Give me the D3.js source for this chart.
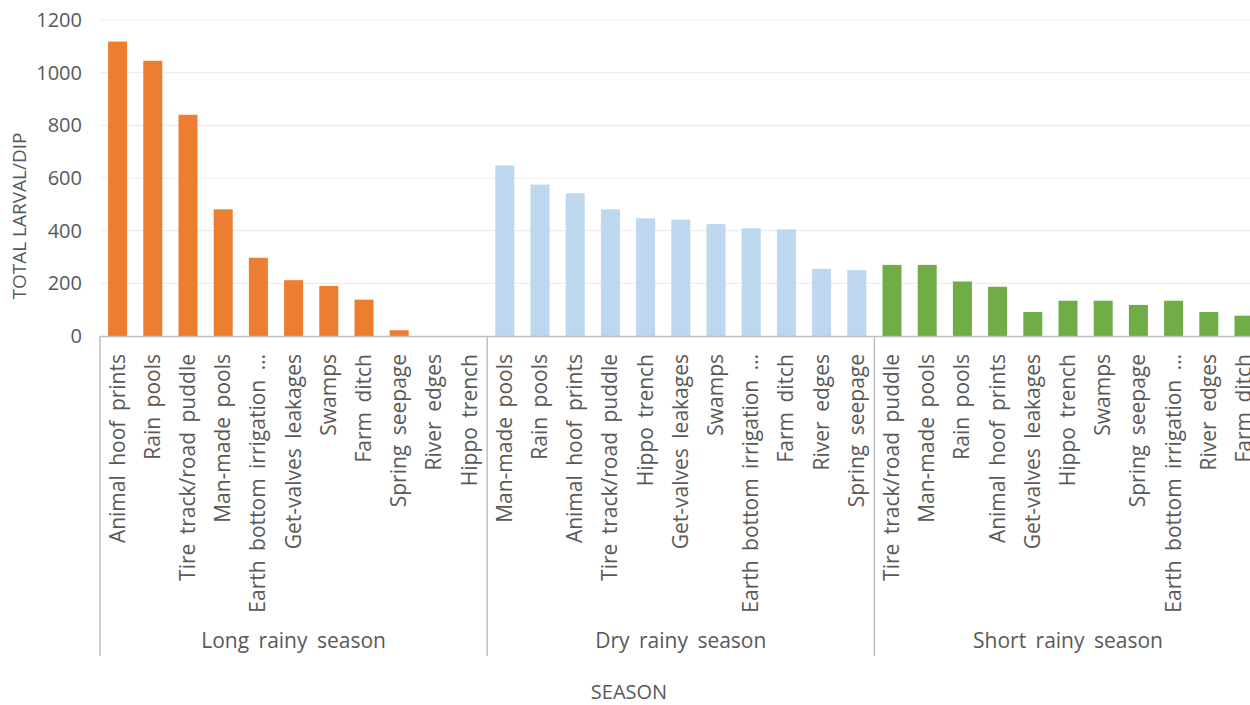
<!DOCTYPE html>
<html>
<head>
<meta charset="utf-8">
<script src="https://cdn.jsdelivr.net/npm/d3@7"></script>
<style>
  html, body { margin: 0; padding: 0; background: #fff; }
  svg { display: block; }
  text { font-family: "Open Sans", "Noto Sans", sans-serif; fill: #595959; }
</style>
</head>
<body>
<svg id="chart" width="1250" height="705"></svg>
<script>
const seasons = ["Long rainy season", "Dry rainy season", "Short rainy season"];
const seasonColors = ["#ED7D31", "#BDD7EE", "#70AD47"];

const longCats = ["Animal hoof prints", "Rain pools", "Tire track/road puddle", "Man-made pools",
  "Earth bottom irrigation …", "Get-valves leakages", "Swamps", "Farm ditch", "Spring seepage",
  "River edges", "Hippo trench"];
const longVals = [1118, 1045, 840, 481, 297, 212, 190, 138, 22, 0, 0];

const dryCats = ["Man-made pools", "Rain pools", "Animal hoof prints", "Tire track/road puddle",
  "Hippo trench", "Get-valves leakages", "Swamps", "Earth bottom irrigation …", "Farm ditch",
  "River edges", "Spring seepage"];
const dryVals = [648, 575, 542, 481, 447, 442, 425, 409, 405, 255, 250];

const shortCats = ["Tire track/road puddle", "Man-made pools", "Rain pools", "Animal hoof prints",
  "Get-valves leakages", "Hippo trench", "Swamps", "Spring seepage", "Earth bottom irrigation …",
  "River edges", "Farm ditch"];
const shortVals = [270, 270, 207, 187, 91, 134, 134, 118, 134, 91, 77];

const yTicks = [0, 200, 400, 600, 800, 1000, 1200];

const groups = [
  { season: seasons[0], cats: longCats, vals: longVals, color: seasonColors[0] },
  { season: seasons[1], cats: dryCats, vals: dryVals, color: seasonColors[1] },
  { season: seasons[2], cats: shortCats, vals: shortVals, color: seasonColors[2] }
];

const rows = [];
groups.forEach((g, gi) => g.cats.forEach((c, i) =>
  rows.push({ key: gi + "|" + i, cat: c, val: g.vals[i], color: g.color, gi })));

const svg = d3.select("#chart");
const pLeft = 100, pRight = 1261.6, pTop = 20, pBottom = 336;

const x = d3.scaleBand().domain(rows.map(r => r.key)).range([pLeft, pRight])
  .paddingInner(0.46).paddingOuter(0.23);
const y = d3.scaleLinear().domain([0, 1200]).range([pBottom, pTop]);

// gridlines
svg.append("g").selectAll("line").data(yTicks.filter(t => t > 0)).join("line")
  .attr("x1", pLeft).attr("x2", 1250)
  .attr("y1", d => y(d)).attr("y2", d => y(d))
  .attr("stroke", "#eeeeee").attr("stroke-width", 1.2);

// y axis labels
const yAxis = d3.axisLeft(y).tickValues(yTicks).tickFormat(d3.format("d"))
  .tickSize(0).tickPadding(18);
const yg = svg.append("g").attr("transform", `translate(${pLeft},0)`).call(yAxis);
yg.select(".domain").remove();
yg.selectAll("text").style("font-size", "20px").attr("fill", "#595959")
  .style("font-family", "'Open Sans', sans-serif");

// bars
svg.append("g").selectAll("rect").data(rows).join("rect")
  .attr("x", d => x(d.key)).attr("width", x.bandwidth())
  .attr("y", d => y(d.val)).attr("height", d => y(0) - y(d.val))
  .attr("fill", d => d.color);

// x axis baseline
svg.append("line").attr("x1", pLeft).attr("x2", 1250)
  .attr("y1", pBottom + 0.5).attr("y2", pBottom + 0.5)
  .attr("stroke", "#bfbfbf").attr("stroke-width", 1.5);

// group separators
const bounds = [0, 11, 22, 33].map(i => pLeft + i * (pRight - pLeft) / 33);
svg.append("g").selectAll("line").data(bounds).join("line")
  .attr("x1", d => d).attr("x2", d => d)
  .attr("y1", pBottom).attr("y2", 656)
  .attr("stroke", "#bfbfbf").attr("stroke-width", 1.5);

// category labels
svg.append("g").selectAll("text").data(rows).join("text")
  .attr("transform", d => `translate(${x(d.key) + x.bandwidth() / 2 + 7},${pBottom + 18}) rotate(-90)`)
  .attr("text-anchor", "end")
  .style("font-size", "21px")
  .style("word-spacing", "4px")
  .text(d => d.cat);

// season labels
svg.append("g").selectAll("text").data(groups).join("text")
  .attr("x", (d, i) => (bounds[i] + bounds[i + 1]) / 2)
  .attr("y", 648)
  .attr("text-anchor", "middle")
  .style("font-size", "21px")
  .style("word-spacing", "4px")
  .text(d => d.season);

// axis titles
svg.append("text").attr("x", 629).attr("y", 699).attr("text-anchor", "middle")
  .style("font-size", "20px").text("SEASON");
svg.append("text").attr("transform", "translate(26,216) rotate(-90)")
  .attr("text-anchor", "middle").style("font-size", "19px").text("TOTAL LARVAL/DIP");
</script>
</body>
</html>
